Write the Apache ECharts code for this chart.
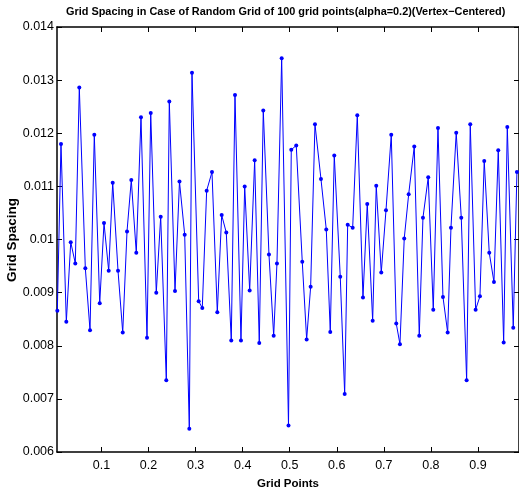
<!DOCTYPE html>
<html>
<head>
<meta charset="utf-8">
<title>Grid Spacing</title>
<script src="https://cdn.jsdelivr.net/npm/echarts@6/dist/echarts.min.js"></script>
<style>
    html, body {margin: 0; padding: 0; background: #fff;}
    #grid-spacing-chart {width: 519px; height: 495px;}
</style>
</head>
<body>
<div id="grid-spacing-chart"></div>
<script>
// grid point positions
var grid_points = [
    0.0061, 0.0139, 0.0252, 0.0346, 0.0443, 0.0528, 0.0656, 0.0756, 0.0847, 0.0962,
    0.1053, 0.1153, 0.1238, 0.1351, 0.1451, 0.1542, 0.1633, 0.1739, 0.1839, 0.1967,
    0.2046, 0.2164, 0.2258, 0.2377, 0.2441, 0.2562, 0.2657, 0.2768, 0.2866, 0.2923,
    0.3065, 0.3142, 0.3235, 0.3348, 0.3461, 0.3554, 0.3652, 0.3758, 0.3837, 0.3964,
    0.4043, 0.4149, 0.4255, 0.4353, 0.4438, 0.4559, 0.4659, 0.4729, 0.4829, 0.4974,
    0.5033, 0.5139, 0.5267, 0.5360, 0.5445, 0.5537, 0.5664, 0.5777, 0.5862, 0.5947,
    0.6074, 0.6168, 0.6232, 0.6338, 0.6436, 0.6557, 0.6648, 0.6763, 0.6839, 0.6946,
    0.7046, 0.7158, 0.7264, 0.7343, 0.7434, 0.7528, 0.7647, 0.7753, 0.7832, 0.7944,
    0.8051, 0.8151, 0.8257, 0.8357, 0.8427, 0.8539, 0.8646, 0.8760, 0.8837, 0.8951,
    0.9043, 0.9134, 0.9241, 0.9341, 0.9432, 0.9547, 0.9624, 0.9751, 0.9829
];
// spacing at each grid point
var grid_spacing = [
    0.00866, 0.01180, 0.00845, 0.00995, 0.00955, 0.01286, 0.00946, 0.00829, 0.01197, 0.00880,
    0.01031, 0.00941, 0.01107, 0.00941, 0.00825, 0.01015, 0.01112, 0.00975, 0.01230, 0.00815,
    0.01238, 0.00900, 0.01043, 0.00735, 0.01260, 0.00903, 0.01109, 0.01009, 0.00644, 0.01314,
    0.00884, 0.00871, 0.01092, 0.01127, 0.00863, 0.01046, 0.01013, 0.00810, 0.01272, 0.00810,
    0.01100, 0.00904, 0.01149, 0.00805, 0.01243, 0.00972, 0.00819, 0.00955, 0.01341, 0.00650,
    0.01169, 0.01177, 0.00958, 0.00812, 0.00911, 0.01217, 0.01114, 0.01019, 0.00826, 0.01158,
    0.00930, 0.00709, 0.01028, 0.01022, 0.01234, 0.00891, 0.01067, 0.00847, 0.01101, 0.00938,
    0.01055, 0.01197, 0.00842, 0.00803, 0.01002, 0.01085, 0.01175, 0.00819, 0.01041, 0.01117,
    0.00868, 0.01210, 0.00892, 0.00825, 0.01022, 0.01201, 0.01041, 0.00735, 0.01217, 0.00868,
    0.00893, 0.01148, 0.00975, 0.00920, 0.01168, 0.00806, 0.01212, 0.00834, 0.01127
];
var x_ticks = [0.1, 0.2, 0.3, 0.4, 0.5, 0.6, 0.7, 0.8, 0.9];

var font_name = '"Liberation Sans", Arial, Helvetica, sans-serif';

var series_data = [];
grid_points.forEach(function (item, index) {
    series_data.push([item, grid_spacing[index]]);
});

var chart = echarts.init(document.getElementById('grid-spacing-chart'));

// matlab style box: ticks inside on all four sides
var base_x = {
    type: 'value',
    min: 0.0054,
    max: 0.9873,
    splitLine: {show: false},
    axisLine: {show: true, onZero: false, lineStyle: {color: '#000', width: 1.5}},
    axisTick: {show: true, inside: true, length: 5, customValues: x_ticks, lineStyle: {color: '#000'}}
};
var base_y = {
    type: 'value',
    min: 0.006,
    max: 0.014,
    interval: 0.001,
    splitLine: {show: false},
    axisLine: {show: true, onZero: false, lineStyle: {color: '#000', width: 1.5}},
    axisTick: {show: true, inside: true, length: 5, lineStyle: {color: '#000'}}
};

var option = {
    backgroundColor: '#fff',
    animation: false,
    title: {
        text: 'Grid Spacing in Case of Random Grid of 100 grid points(alpha=0.2)(Vertex\u2212Centered)',
        left: 66,
        top: 6,
        padding: 0,
        textStyle: {fontFamily: font_name, fontSize: 10.9, fontWeight: 'bold', color: '#000'}
    },
    // y axis title, placed by hand (axis name kept sticking to the edge)
    graphic: [{
        type: 'text',
        x: 12,
        y: 240,
        rotation: Math.PI / 2,
        style: {
            text: 'Grid Spacing',
            align: 'center',
            verticalAlign: 'middle',
            font: 'bold 13.5px ' + font_name,
            fill: '#000'
        }
    }],
    grid: {left: 57, right: 0, top: 27, bottom: 43, containLabel: false, outerBoundsMode: 'none'},
    xAxis: [
        Object.assign({}, base_x, {
            position: 'bottom',
            name: 'Grid Points',
            nameLocation: 'middle',
            nameGap: 26,
            nameTextStyle: {fontFamily: font_name, fontSize: 11.5, fontWeight: 'bold', color: '#000'},
            axisLabel: {
                customValues: x_ticks,
                margin: 7,
                fontFamily: font_name, fontSize: 12.5, color: '#000',
                formatter: function (v) { return (+v.toFixed(1)) + ''; }
            }
        }),
        Object.assign({}, base_x, {position: 'top', axisLabel: {show: false}})
    ],
    yAxis: [
        Object.assign({}, base_y, {
            position: 'left',
            axisLabel: {
                margin: 3,
                fontFamily: font_name, fontSize: 12.5, color: '#000',
                formatter: function (v) { return (+v.toFixed(3)) + ''; }
            }
        }),
        Object.assign({}, base_y, {position: 'right', axisLabel: {show: false}})
    ],
    series: [{
        type: 'line',
        data: series_data,
        symbol: 'circle',
        symbolSize: 4,
        showAllSymbol: true,
        lineStyle: {color: '#0000ff', width: 1},
        itemStyle: {color: '#0000ff'}
    }]
};

chart.setOption(option);
</script>
</body>
</html>
